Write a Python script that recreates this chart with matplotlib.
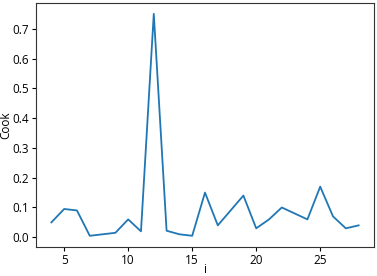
import matplotlib
matplotlib.use("Agg")
import matplotlib.pyplot as plt

plt.rcParams['font.family'] = ['Open Sans', 'DejaVu Sans']

i_vals = [4, 5, 6, 7, 9, 10, 11, 12, 13, 14, 15, 16, 17, 19, 20, 21, 22, 24, 25, 26, 27, 28]
cook = [0.050, 0.095, 0.090, 0.005, 0.015, 0.060, 0.020, 0.750, 0.022, 0.010, 0.005,
        0.150, 0.040, 0.140, 0.030, 0.060, 0.100, 0.060, 0.170, 0.070, 0.030, 0.040]

fig = plt.figure(figsize=(3.77, 2.76), dpi=100)
ax = fig.add_axes([0.0955, 0.1055, 0.8965, 0.8845])
ax.plot(i_vals, cook, color='#1f77b4', linewidth=1.3)
ax.set_xlabel('i', fontsize=8.5, labelpad=-2.5)
ax.set_ylabel('Cook', fontsize=8.5, labelpad=0)
ax.tick_params(labelsize=8.5, length=3, pad=2)
for s in ax.spines.values():
    s.set_color('#333333')
fig.savefig('out.png', dpi=100)
